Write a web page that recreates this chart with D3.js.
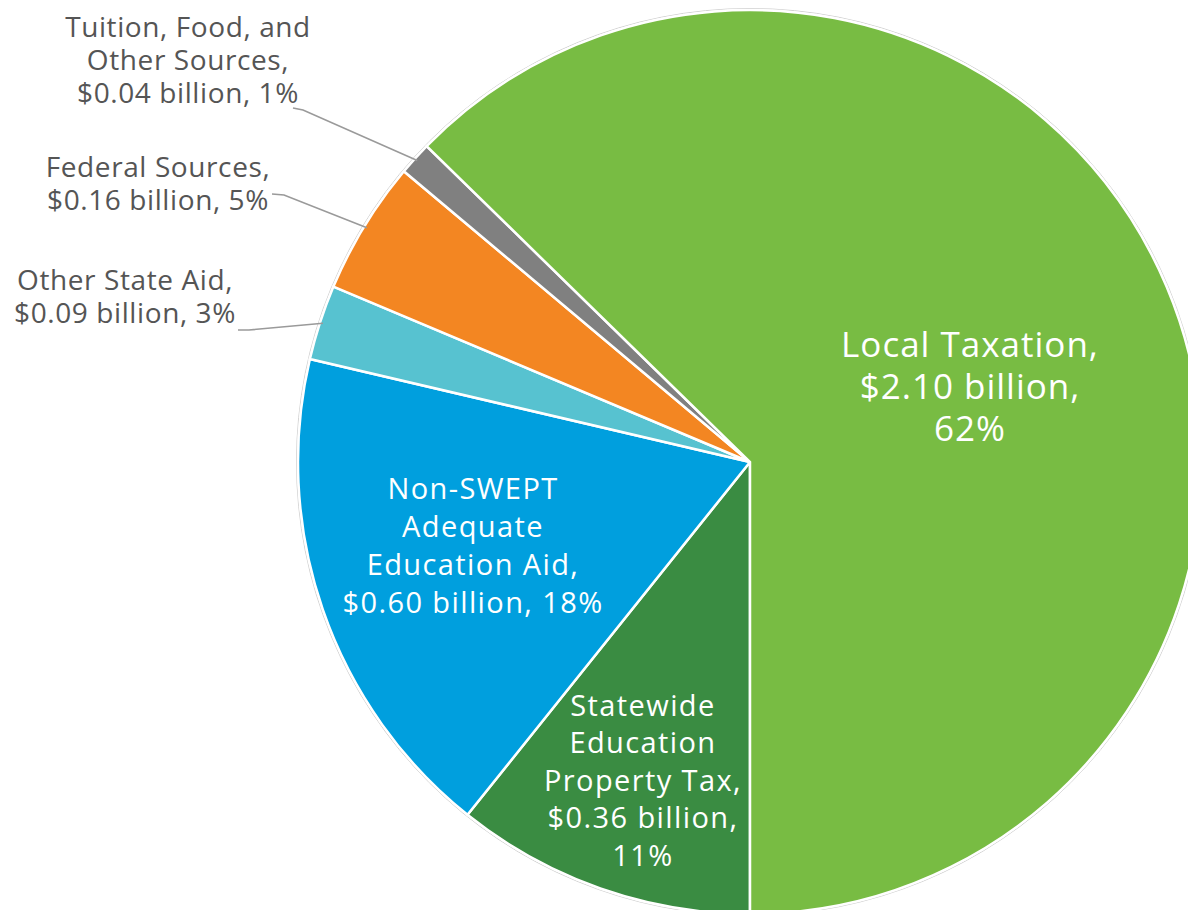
<!DOCTYPE html>
<html>
<head>
<meta charset="utf-8">
<style>
    body { margin: 0; background: #fff; }
    svg { display: block; }
    .slice { stroke: #fff; stroke-width: 2.5px; }
    .rim { fill: none; stroke: #d0d0d0; stroke-width: 1px; }
    .leader { fill: none; stroke: #9a9a9a; stroke-width: 1.6px; }
    text { font-family: "Open Sans", sans-serif; }
    .inlabel { fill: #fff; }
    .outlabel { fill: #555; }
</style>
</head>
<body>
<script src="https://cdn.jsdelivr.net/npm/d3@7"></script>
<script>

var categories = ["Statewide Education Property Tax", "Non-SWEPT Adequate Education Aid",
    "Other State Aid", "Federal Sources", "Tuition, Food, and Other Sources", "Local Taxation"];
var values = [0.36, 0.60, 0.09, 0.16, 0.04, 2.10];
var percents = ["11%", "18%", "3%", "5%", "1%", "62%"];
var colors = ["#3a8c42", "#009fde", "#57c2d0", "#f38622", "#808080", "#78bc43"];
var labelLines = [
    ["Statewide", "Education", "Property Tax,", "$0.36 billion,", "11%"],
    ["Non-SWEPT", "Adequate", "Education Aid,", "$0.60 billion, 18%"],
    ["Other State Aid,", "$0.09 billion, 3%"],
    ["Federal Sources,", "$0.16 billion, 5%"],
    ["Tuition, Food, and", "Other Sources,", "$0.04 billion, 1%"],
    ["Local Taxation,", "$2.10 billion,", "62%"]
];

var width = 1188, height = 910;
var cx = 750, cy = 462, radius = 452;

// label layout: x = centre, y = first baseline, lh = line height
var labelLayout = [
    {x: 643, y: 716, lh: 37.4, size: 29, ls: 1.4, inside: true},
    {x: 473, y: 499, lh: 38, size: 29, ls: 1.4, inside: true},
    {x: 125, y: 290, lh: 33, size: 28, ls: 0.6, inside: false, from: [238, 330], elbow: [249, 330]},
    {x: 158, y: 177, lh: 33, size: 28, ls: 0.6, inside: false, from: [272, 194], elbow: [284, 195]},
    {x: 188, y: 37, lh: 33, size: 28, ls: 0.6, inside: false, from: [293, 108], elbow: [303, 110]},
    {x: 970, y: 357, lh: 42, size: 35, ls: 1, inside: true}
];

var svg = d3.select("body").append("svg")
    .attr("width", width)
    .attr("height", height);

var g = svg.append("g")
    .attr("transform", "translate(" + cx + "," + cy + ")");

var pie = d3.pie()
    .sort(null)
    .startAngle(Math.PI)
    .endAngle(3 * Math.PI);

var arc = d3.arc()
    .innerRadius(0)
    .outerRadius(radius);

var arcs = pie(values);

g.append("circle")
    .attr("class", "rim")
    .attr("r", radius + 1.5);

g.selectAll(".slice")
    .data(arcs)
    .enter().append("path")
    .attr("class", "slice")
    .attr("fill", function(d, i) { return colors[i]; })
    .attr("d", arc);

// leader lines for the small slices, ending just inside the slice edge
arcs.forEach(function(d, i) {
    var L = labelLayout[i];
    if (L.inside) return;
    var mid = (d.startAngle + d.endAngle) / 2;
    var ex = cx + Math.sin(mid) * (radius - 3);
    var ey = cy - Math.cos(mid) * (radius - 3);
    svg.append("polyline")
        .attr("class", "leader")
        .attr("points", [L.from, L.elbow, [ex, ey]].map(function(p) { return p.join(","); }).join(" "));
});

// text labels
labelLines.forEach(function(lines, i) {
    var L = labelLayout[i];
    var t = svg.append("text")
        .attr("class", L.inside ? "inlabel" : "outlabel")
        .attr("text-anchor", "middle")
        .attr("font-size", L.size + "px")
        .attr("letter-spacing", L.ls + "px");
    lines.forEach(function(s, j) {
        t.append("tspan")
            .attr("x", L.x)
            .attr("y", L.y + j * L.lh)
            .text(s);
    });
});

</script>
</body>
</html>
